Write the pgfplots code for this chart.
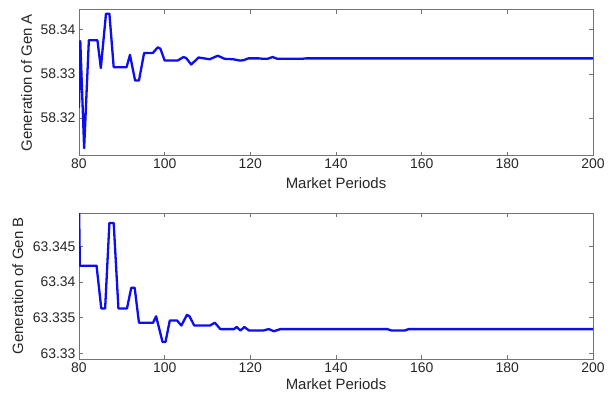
\documentclass[border=0pt]{standalone}
\usepackage{pgfplots}
\pgfplotsset{compat=1.18}
\usepackage{fontspec}
\setmainfont{Liberation Sans}
\definecolor{frame}{gray}{0.45}
\definecolor{lineblue}{rgb}{0.05,0.05,0.95}
\begin{document}
\begin{tikzpicture}[x=1bp,y=1bp]
\useasboundingbox (0,0) rectangle (613,-396);
\pgfplotsset{
  mystyle/.style={
    scale only axis,
    width=514bp, height=146bp,
    xmin=80, xmax=200,
    xtick={80,100,...,200},
    tick align=inside,
    major tick length=4bp,
    axis line style={frame, line width=0.6bp},
    tick style={frame, line width=0.6bp},
    every tick label/.append style={font=\fontsize{14}{16}\selectfont, text=black!85},
    /pgf/number format/assume math mode=true,
    xticklabel style={/pgf/number format/1000 sep={}},
    label style={font=\fontsize{15}{18}\selectfont, text=black!85},
    xlabel={Market Periods},
    clip=true,
  }
}
% Top axis
\begin{axis}[mystyle,
  at={(79bp,-155.7bp)}, anchor=south west,
  ymin=58.3115, ymax=58.3445,
  ytick={58.32,58.33,58.34},
  yticklabel style={/pgf/number format/fixed, /pgf/number format/precision=2},
  ylabel={Generation of Gen A},
  xlabel style={at={(axis description cs:0.5,-0.185)}, anchor=center},
  ylabel style={at={(axis description cs:-0.102,0.5)}, anchor=center},
]
\addplot[lineblue, line width=2.3bp, line join=round] coordinates {
(80,58.3223) (80.3,58.3374) (81.2,58.3132) (82.3,58.3376) (84.3,58.3376)
(85.1,58.3313) (86.3,58.3436) (87.1,58.3436) (88.1,58.3315) (91.1,58.3315)
(91.9,58.3343) (93.1,58.3285) (94,58.3285) (95.2,58.3347) (97.2,58.3347)
(98.4,58.3360) (99,58.3357) (100,58.3330) (103,58.3330) (104.4,58.3338)
(105,58.3336) (106.2,58.3321) (107.9,58.3337) (110.5,58.3333) (112.4,58.3341)
(114,58.3334) (116,58.3333) (117.6,58.3330) (118.5,58.3331) (119.5,58.3335)
(122,58.3335) (123,58.3334) (124,58.3334) (125.2,58.3338) (126.3,58.3334)
(132,58.3334) (133,58.3335) (200,58.3335)
};
\end{axis}
% Bottom axis
\begin{axis}[mystyle,
  at={(79bp,-359bp)}, anchor=south west,
  ymin=63.3292, ymax=63.3497,
  ytick={63.33,63.335,63.34,63.345},
  yticklabel style={/pgf/number format/fixed, /pgf/number format/precision=3},
  ylabel={Generation of Gen B},
  xlabel style={at={(axis description cs:0.5,-0.175)}, anchor=center},
  ylabel style={at={(axis description cs:-0.119,0.5)}, anchor=center},
]
\addplot[lineblue, line width=2.3bp, line join=round] coordinates {
(80,63.3510) (80.2,63.3423) (84.1,63.3423) (85.2,63.3363) (86.1,63.3363)
(87.1,63.3483) (88.1,63.3483) (89.2,63.3363) (91.2,63.3363) (92.2,63.3392)
(93,63.3392) (94,63.3343) (97.3,63.3343) (98,63.3352) (99.5,63.3316)
(100.2,63.3316) (101.2,63.3346) (102.9,63.3346) (103.9,63.3339) (105.2,63.3354)
(105.8,63.3352) (106.9,63.3339) (110.6,63.3339) (111.7,63.3343) (113,63.3334)
(116.2,63.3334) (116.8,63.3337) (117.7,63.3332) (118.6,63.3337) (119.7,63.3332)
(123,63.3332) (124.3,63.3334) (125.5,63.3331) (127,63.3334) (152,63.3334)
(153,63.3332) (156,63.3332) (157,63.3334) (200,63.3334)
};
\end{axis}
\end{tikzpicture}
\end{document}
